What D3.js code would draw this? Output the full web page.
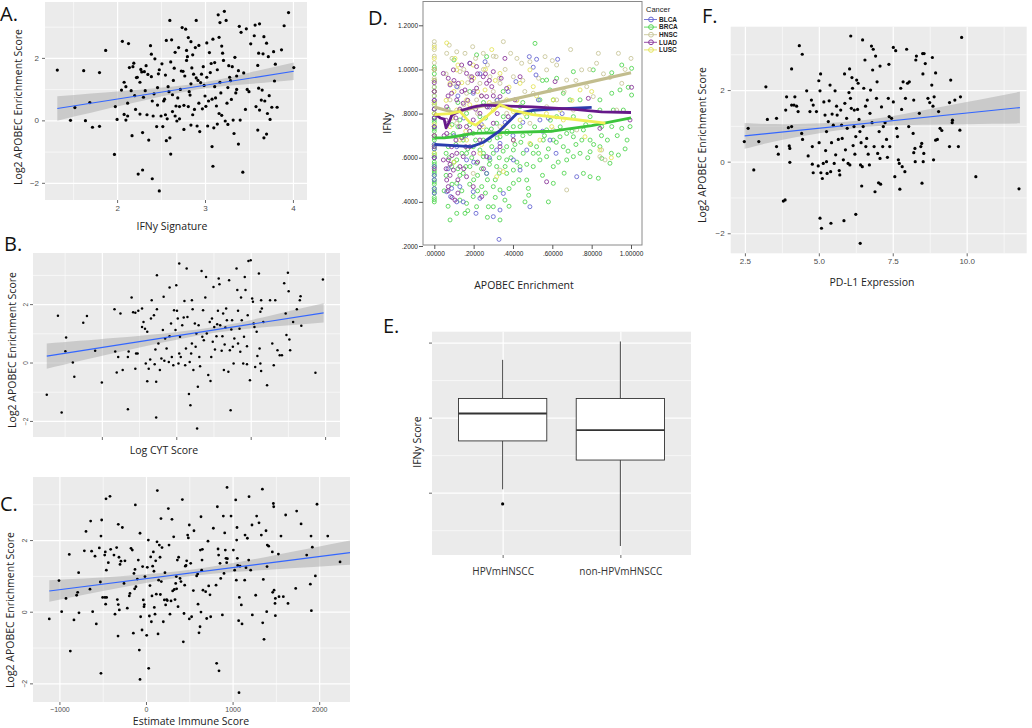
<!DOCTYPE html>
<html>
<head>
<meta charset="utf-8">
<script src="https://cdn.jsdelivr.net/npm/d3@7"></script>
<style>
  body { margin: 0; background: #fff; }
  svg { display: block; }
  text { font-family: "Open Sans", sans-serif; }
</style>
</head>
<body>
<div id="fig"></div>
<script>
// ---- panel A: IFNy signature vs log2 APOBEC enrichment
const pointsA = [[1.32,1.61],[1.47,0],[1.52,0.41],[1.62,1.59],[1.64,-0.01],[1.69,0.57],[1.72,-0.22],[1.8,1.53],[1.8,-0.19],[1.87,2.24],
  [1.97,-1.09],[1.98,0.44],[2,0.03],[2.06,2.53],[2.05,0.97],[2.08,0.19],[2.1,1.08],[2.1,0.01],[2.12,0.14],[2.13,2.46],[2.14,1.69],[2.16,0.95],
  [2.17,-0.49],[2.19,1.83],[2.2,0.79],[2.22,1.37],[2.24,-1.72],[2.26,1.22],[2.27,1.63],[2.29,-1.59],[2.29,-0.39],[2.3,0.74],[2.31,1.56],
  [2.33,1.75],[2.34,0.18],[2.36,-0.63],[2.38,2.39],[2.39,2.12],[2.39,1.4],[2.4,-1.87],[2.41,0.14],[2.43,1.97],[2.45,-0.2],[2.46,0.49],
  [2.47,1.49],[2.48,-2.26],[2.5,0.14],[2.51,1.81],[2.52,-0.2],[2.54,0.68],[2.55,0.18],[2.56,2.56],[2.56,-0.65],[2.58,1.08],[2.6,3.2],
  [2.6,-0.56],[2.61,-1.08],[2.61,1.87],[2.62,2.58],[2.63,0.82],[2.65,1.67],[2.66,0.14],[2.67,0.46],[2.68,-0.02],[2.7,2.33],[2.71,0.44],
  [2.72,0.99],[2.74,2.97],[2.75,1.57],[2.76,-0.29],[2.77,1.42],[2.78,2.92],[2.79,2.24],[2.8,2.04],[2.81,0.44],[2.81,2.65],[2.83,0.81],
  [2.84,-0.15],[2.84,1.17],[2.86,2.1],[2.87,1.48],[2.89,2.33],[2.9,3.2],[2.9,1.36],[2.91,-0.18],[2.93,0.55],[2.93,2.4],[2.94,-0.36],
  [2.95,1.21],[2.97,0.37],[2.98,1.72],[3,0.78],[3.02,1.38],[3.03,-0.18],[3.05,2.17],[3.06,1.53],[3.08,-0.84],[3.08,0.68],[3.09,2.6],
  [3.09,-1.47],[3.1,-0.24],[3.11,1.85],[3.13,0.46],[3.14,-0.12],[3.15,3.38],[3.16,2.66],[3.17,1.22],[3.17,3.13],[3.19,0.16],[3.2,2.15],
  [3.22,3.49],[3.23,-0.02],[3.24,3.2],[3.26,-0.13],[3.27,1.75],[3.29,1.27],[3.3,0.67],[3.32,0.01],[3.33,-0.42],[3.34,2.02],[3.36,1.42],
  [3.36,0.99],[3.38,1.59],[3.38,-0.76],[3.39,3.01],[3.4,0.01],[3.41,2.82],[3.43,-1.66],[3.47,2.93],[3.48,0.99],[3.5,0.92],[3.52,2.45],
  [3.56,2.71],[3.57,3.05],[3.58,0.44],[3.6,-0.31],[3.6,1.76],[3.61,1.03],[3.61,2.15],[3.62,0.33],[3.62,3.09],[3.64,0.65],[3.65,0.97],
  [3.66,2.13],[3.67,-0.56],[3.67,2.68],[3.68,0.62],[3.7,-0.44],[3.7,2.47],[3.71,0.22],[3.72,2.04],[3.73,0.79],[3.74,0.03],[3.76,0.42],
  [3.78,2.2],[3.79,1.26],[3.8,1.8],[3.82,0.42],[3.87,2.26],[3.9,3.03],[3.95,3.45],[4.01,1.69],
  [2.18,1.72],[2.23,1.38],[2.28,1.55],[2.35,1.47],[2.42,0.85],[2.46,1.05],[2.53,0.62],[2.57,0.05],[2.59,0.92],[2.64,1.28],[2.69,0.72],
  [2.73,1.58],[2.76,0.48],[2.79,1.92],[2.82,0.92],[2.85,1.68],[2.88,0.35],[2.92,1.28],[2.96,1.48],[2.99,1.12],[3.04,0.62],[3.07,1.82],
  [3.11,1.08],[3.14,1.62],[3.18,0.88],[3.21,1.92],[3.25,0.55],[3.28,1.38],[3.31,1.72],[3.35,0.88],[2.63,0.28],[2.71,0.05],[2.86,0.18],
  [3.01,0.45],[3.16,0.22],[3.12,0.72],[2.55,1.45],[2.48,1.62],[2.4,0.62],[2.32,0.95],[2.26,0.2],[2.21,0.35],[2.12,0.55],[2.08,1.22],
  [2.66,2.18],[2.84,2.52],[3.02,2.48],[3.19,2.38],[3.26,1.05],[3.44,1.52],[3.46,0.35]]
const fitA = [[1.32,0.38],[4.01,1.57]]
const bandA = [[1.32,0.39],[2.1,0.22],[2.9,0.1],[3.5,0.18],[4.01,0.28]]
const xTicksA = [2,3,4], xMinorA = [1.5,2.5,3.5]

// ---- panel B: log CYT score (no tick labels in the original)
const pointsB = [[0.26,-1.1],[0.41,1.6],[0.46,-1.71],[0.52,0.86],[0.51,0.39],[0.61,0],[0.63,-0.49],[0.75,1.36],[0.8,1.59],[0.91,0.4],
  [1,-0.68],[1.17,1.82],[1.18,0.38],[1.2,-0.34],[1.22,0.19],[1.25,1.68],[1.28,-0.26],[1.35,-1.6],[1.35,0.19],[1.36,0.38],[1.4,2.23],
  [1.42,1.72],[1.45,-0.21],[1.45,1.7],[1.46,0.31],[1.48,0.31],[1.49,1.77],[1.54,1.85],[1.54,1.22],[1.56,1.39],[1.58,1.16],[1.59,-0.03],
  [1.61,1.05],[1.61,-0.64],[1.63,-0.21],[1.65,0.1],[1.66,1.51],[1.67,2.13],[1.7,1.62],[1.71,-0.06],[1.72,0.45],[1.73,-0.66],[1.73,-1.88],
  [1.74,1.82],[1.74,2.99],[1.76,0.65],[1.78,-0.26],[1.8,0.14],[1.82,1.11],[1.83,2.25],[1.84,0.06],[1.85,0.82],[1.87,0.48],[1.9,0.02],
  [1.91,2.57],[1.91,0.9],[1.93,1.34],[1.94,0.19],[1.96,-0.09],[1.97,1.79],[1.99,1.11],[2,2.65],[2.01,1.77],[2.02,1.51],[2.03,-0.03],
  [2.04,3.39],[2.04,0.31],[2.05,0.88],[2.06,0.19],[2.08,1.28],[2.1,1.54],[2.11,2.11],[2.12,-0.09],[2.13,0.48],[2.14,3.22],[2.15,1.56],
  [2.17,-1.08],[2.18,0.02],[2.19,-1.46],[2.2,0.31],[2.21,2.13],[2.21,0.65],[2.22,1.82],[2.23,-0.26],[2.25,1.34],[2.26,0.54],[2.27,0.99],
  [2.28,-2.26],[2.29,-0.83],[2.3,1.28],[2.31,0.19],[2.32,-0.13],[2.34,3.13],[2.35,0.88],[2.36,1.79],[2.37,0.76],[2.39,2.23],[2.4,2.93],
  [2.41,0.99],[2.43,-0.43],[2.45,1.39],[2.46,-0.63],[2.47,0.19],[2.48,1.51],[2.49,0.71],[2.5,2.59],[2.51,1.22],[2.52,0.45],[2.54,0.9],
  [2.55,1.31],[2.56,1.77],[2.57,2.88],[2.58,2.68],[2.59,1.28],[2.61,0.4],[2.62,0.9],[2.63,1.68],[2.64,-0.26],[2.65,0.62],[2.66,1.2],
  [2.67,1.85],[2.68,1.45],[2.7,-0.32],[2.71,2.82],[2.72,0.42],[2.73,-1.63],[2.74,1.13],[2.75,1.45],[2.76,0.54],[2.77,-0.03],[2.78,0.82],
  [2.81,3.22],[2.82,2.48],[2.83,0.65],[2.83,1.77],[2.85,1.16],[2.86,0.37],[2.87,2.23],[2.88,1.45],[2.9,-0.03],[2.91,0.88],[2.92,2.93],
  [2.93,2.48],[2.95,-0.06],[2.95,0.56],[2.96,1.62],[2.97,3.48],[2.99,-0.61],[3,3.5],[3.02,2.19],[3.03,2.08],[3.04,1.34],[3.05,1.22],
  [3.06,-0.15],[3.08,1.05],[3.09,0.22],[3.11,3.05],[3.12,0.48],[3.13,-0.03],[3.13,1.74],[3.14,2.13],[3.14,-0.29],[3.15,1.85],[3.17,1.39],
  [3.22,-0.78],[3.26,2.13],[3.29,0.65],[3.31,-0.09],[3.33,2.13],[3.36,0.42],[3.39,0.25],[3.42,0.25],[3.45,2.71],[3.47,1.68],[3.48,0.94],
  [3.5,3.07],[3.51,2.44],[3.52,0.79],[3.53,0.42],[3.57,1.39],[3.62,1.82],[3.66,2.13],[3.67,2.27],[3.68,1.26],[3.87,-0.35],[3.97,2.84]]
const fitB = [[0.26,0.22],[3.98,1.7]]
const bandB = [[0.26,0.43],[1.2,0.25],[2.4,0.1],[3.3,0.2],[3.98,0.33]]
const xTicksB = [1,2,3,4], xMinorB = [0.5,1.5,2.5,3.5]

// ---- panel C: ESTIMATE immune score
const pointsC = [[-1117,-0.2],[-1005,0.87],[-974,0],[-924,0.37],[-886,1.6],[-874,-1.1],[-832,-0.23],[-801,0.46],[-789,0.54],[-778,1.09],
  [-774,-0.03],[-693,2.24],[-712,1.7],[-647,0.63],[-639,2.53],[-628,1.69],[-616,0],[-589,1.55],[-574,-0.34],[-539,1.78],[-527,0.83],
  [-520,-1.72],[-520,2.11],[-512,2.56],[-501,0.4],[-477,1.58],[-474,0.4],[-470,1.67],[-466,0.21],[-462,3.15],[-458,1.16],[-455,0.4],
  [-435,1.37],[-416,3.22],[-408,1.74],[-370,1.58],[-358,-0.07],[-339,1.79],[-331,0.34],[-323,-0.68],[-320,2.44],[-320,0.2],[-312,1.52],
  [-308,0.05],[-300,1.32],[-289,1.41],[-273,2.35],[-254,0.79],[-243,1.42],[-216,0.1],[-193,0.44],[-185,0.51],[-173,1.77],[-158,1.72],
  [-146,-0.6],[-139,1.07],[-131,0.64],[-127,1.18],[-123,2.98],[-116,0.7],[-100,0.91],[-89,1.44],[-77,-1.07],[-69,-1.89],[-69,2.19],
  [-62,-0.14],[-46,-0.51],[-39,1.26],[-31,0.33],[-23,0.14],[-19,0.2],[-12,0.98],[8,-0.66],[15,1.24],[27,2],[31,-1.58],[39,-0.12],
  [46,0.73],[54,1.53],[62,-0.28],[69,0.44],[77,1.27],[85,1.67],[92,1.13],[96,0.12],[104,-0.07],[112,1.42],[119,0.49],[127,1.95],
  [131,3.38],[139,-0.62],[146,0.88],[154,1.86],[162,1.52],[166,0.48],[173,2.6],[177,0.84],[185,1.79],[200,-0.28],[212,0.33],[219,1.09],
  [227,0.19],[239,0.34],[246,0.31],[258,2.88],[266,1.86],[277,-0.07],[289,0.3],[300,2.58],[308,0.58],[320,2.09],[327,0.62],[335,0.34],
  [343,0.79],[350,0.98],[354,0.64],[362,1.44],[370,0.14],[377,1.52],[393,0.93],[404,0.84],[420,3.13],[431,-0.84],[439,-0.05],[447,0.74],
  [454,1.27],[462,1.29],[470,1.42],[481,2.14],[489,2.06],[500,2.42],[500,-0.2],[516,1.35],[527,-0.14],[547,0.59],[554,2.26],[585,1],
  [597,1.05],[601,0.21],[612,-0.59],[624,-0.42],[628,1.72],[635,2.65],[635,-0.01],[643,1.16],[647,1.44],[651,1.74],[658,0.6],[689,0.56],
  [701,-0.19],[716,1.97],[724,0.72],[739,0.47],[747,-0.14],[778,2.33],[809,0.74],[816,-1.44],[824,2.93],[832,1.75],[839,1.58],[843,-1.65],
  [855,1.35],[863,0.93],[882,-0.09],[893,2.67],[901,1.07],[909,2.2],[916,1.72],[924,1.49],[932,1.37],[936,3.47],[940,1.48],[982,2.67],
  [1009,1.72],[1024,1.16],[1036,3.12],[1043,0.88],[1047,2],[1051,2.35],[1055,1.49],[1059,1.29],[1070,-0.25],[1074,-2.26],[1078,0.4],
  [1086,1.27],[1101,0.19],[1109,-0.34],[1140,0.88],[1144,2.14],[1155,1.23],[1171,2.05],[1186,1.44],[1190,3.21],[1209,1.16],[1224,2.42],
  [1228,-0.09],[1267,0.46],[1278,2.67],[1305,2.48],[1332,2.14],[1344,3.42],[1348,-0.31],[1355,0.9],[1363,-0.77],[1386,2.26],[1394,0],
  [1398,1.26],[1401,1.86],[1417,1.83],[1459,1.67],[1463,0.54],[1471,3.02],[1475,2.93],[1479,0.6],[1490,0.23],[1494,-0.11],[1494,0.37],
  [1529,1.61],[1536,0.42],[1559,2.11],[1586,0.42],[1613,2.7],[1640,0.23],[1729,0.65],[1740,2.81],[1791,2.45],[1856,1.58],[1898,0.77],
  [1906,2.11],[1910,0.03],[1921,1.8],[1956,1],[1975,3],[2099,2.11],[2241,1.39]]
const fitC = [[-1117,0.58],[2356,1.65]]
const bandC = [[-1117,0.3],[-300,0.16],[600,0.09],[1500,0.2],[2356,0.34]]
const xTicksC = [-1000,0,1000,2000], xMinorC = [-500,500,1500]

// ---- panel F: PD-L1 expression
const pointsF = [[2.48,0.56],[2.61,0.93],[2.8,-0.23],[2.97,0.56],[3.21,2.09],[3.26,1.18],[3.57,1.21],[3.57,0.42],[3.63,0.21],[3.8,-1.1],
  [3.86,-1.07],[3.88,1.44],[3.91,1.81],[3.97,0.95],[4,0.44],[4.02,-0.02],[4.02,0.37],[4.08,0.98],[4.08,1.58],[4.08,2.59],[4.16,1.58],
  [4.19,1.81],[4.25,1.55],[4.3,1.4],[4.34,3.24],[4.42,0.79],[4.44,3],[4.45,0.62],[4.59,1.98],[4.64,0.16],[4.7,1.4],[4.75,1.72],[4.78,0.42],
  [4.78,-0.07],[4.81,1.58],[4.81,-0.31],[4.92,1.4],[4.98,-0.12],[5,2.26],[5.01,0.53],[5.04,1.98],[5.04,-1.58],[5.06,2.45],[5.07,-0.31],
  [5.09,-1.86],[5.12,-0.47],[5.15,-0.05],[5.17,1.67],[5.21,1.3],[5.23,0.31],[5.26,0],[5.26,0.84],[5.28,-0.33],[5.32,1.12],[5.35,1.7],
  [5.38,2.14],[5.4,-0.28],[5.41,-1.72],[5.43,0.53],[5.45,1.33],[5.49,1.02],[5.52,-0.05],[5.55,1.98],[5.57,0.19],[5.6,1.55],[5.62,1.3],
  [5.66,0.62],[5.69,-0.25],[5.71,-0.37],[5.74,1.44],[5.77,1.02],[5.79,0.65],[5.83,0.05],[5.85,-1.65],[5.87,2.45],[5.88,1.63],[5.9,0.33],
  [5.94,1.21],[5.96,0.93],[5.99,-0.05],[6.02,1.93],[6.04,2.59],[6.05,-0.09],[6.07,1.77],[6.08,3.51],[6.1,1.49],[6.12,2.35],[6.14,2.05],
  [6.16,0.45],[6.19,0.98],[6.2,1.44],[6.22,0.21],[6.25,-1.47],[6.25,0.7],[6.28,2.28],[6.31,1.46],[6.33,2.19],[6.36,1.18],[6.39,0.84],
  [6.4,-2.28],[6.41,-0.09],[6.43,0.53],[6.45,-0.68],[6.47,-0.14],[6.48,3.4],[6.5,0.98],[6.52,2.05],[6.56,2.84],[6.58,1.55],[6.59,0.42],
  [6.62,0.65],[6.64,1.72],[6.67,0.21],[6.71,-0.09],[6.73,1.35],[6.75,2],[6.78,3.23],[6.8,1.09],[6.82,2.56],[6.84,3.14],[6.87,0.42],
  [6.9,-0.84],[6.92,2.95],[6.95,1.77],[6.97,2.23],[6.99,0.23],[7.02,-0.59],[7.04,0.84],[7.07,2.67],[7.07,0.09],[7.09,-0.63],[7.12,1.53],
  [7.16,0.42],[7.18,0.98],[7.24,1.09],[7.29,0.62],[7.32,0.12],[7.35,1.77],[7.37,2.72],[7.38,1.26],[7.4,0.42],[7.46,1.21],[7.52,1.67],
  [7.52,3.19],[7.57,-0.42],[7.6,3.1],[7.63,0.93],[7.66,0.7],[7.69,0.05],[7.72,-0.05],[7.74,-0.77],[7.77,2.05],[7.8,1.46],[7.82,-0.14],
  [7.85,2.23],[7.91,-0.28],[7.93,1.77],[7.97,3.14],[8,2.19],[8.04,0.98],[8.06,2.23],[8.19,0.79],[8.21,1.72],[8.21,0.25],[8.25,0.37],
  [8.26,0],[8.28,2.84],[8.3,2.95],[8.4,1.35],[8.45,0.42],[8.48,0.51],[8.49,-0.6],[8.51,3.02],[8.52,2.45],[8.53,0],[8.55,0.23],[8.56,3.02],
  [8.6,2.74],[8.69,1.77],[8.75,1.65],[8.82,2.14],[8.84,2.91],[8.86,1.55],[8.88,0.05],[8.9,1.81],[8.95,2.48],[8.95,0.6],[9.01,0.62],
  [9.05,1.4],[9.1,0.93],[9.16,0.87],[9.42,1.65],[9.42,0.42],[9.46,2.28],[9.51,1.09],[9.52,1.16],[9.6,1.72],[9.72,0.42],[9.77,0.88],
  [9.79,1.81],[9.83,3.47],[10.31,-0.42],[11.77,-0.76]]
const fitF = [[2.49,0.72],[11.8,1.51]]
const bandF = [[2.49,0.36],[4,0.2],[6.3,0.1],[8.5,0.2],[11.8,0.44]]
const xTicksF = [2.5,5,7.5,10], xMinorF = [3.75,6.25,8.75,11.25]

const yTicksLog2 = [-2,0,2], yMinorLog2 = [-1,1,3]

// ---- panel D: IFNy vs APOBEC enrichment by cancer (SPSS style)
const cancers = ["BLCA","BRCA","HNSC","LUAD","LUSC"]
const ptsBLCA = [[0.063,0.446],[0.083,0.424],[0.114,0.4],[0.147,0.4],[0.212,0.348],[0.232,0.416],[0.3,0.333],[0.334,0.363],[0.329,0.23],
  [0.483,1.058],[0.486,0.378],[0.52,1.046],[0.529,0.862],[0.517,0.975],[0.627,1.046],[0.619,0.62],[0.415,0.945],[0.376,0.9],[0.258,1.035],
  [0.181,1.028],[0.114,0.922],[0.198,0.892],[0.266,0.529],[0.402,0.59],[0.47,0.635],[0.537,0.771],[0.58,0.779],[0.588,0.68],[0.334,0.665],
  [0.114,0.65],[0.164,0.59],[0.088,0.461],[0.13,0.469],[0.198,0.446],[0.351,0.438],[0.436,0.544],[0.503,1.01],[0.232,0.98],[0.317,0.635],
  [0.724,0.514],[0.15,0.78],[0.28,0.83],[0.36,0.76],[0.1,0.7],[0.07,0.55],[0.09,0.8],[0.12,0.88],[0.16,0.7],[0.2,0.58],[0.24,0.75],
  [0.28,0.6],[0.32,0.86],[0.4,0.7],[0.45,0.76],[0.55,0.72],[0.65,0.8]]
const zeroBLCA = [0.44,0.46,0.5,0.52,0.56,0.6,0.64,0.66,0.7,0.74,0.78,0.82,0.86,0.9,0.95,1.0]
const ptsBRCA = [[0.08,0.318],[0.512,1.118],[0.1,1.043],[0.215,1.066],[0.266,1.058],[0.571,0.952],[0.622,0.96],[0.707,0.99],[0.808,0.998],
  [0.902,0.985],[0.953,1.02],[1.003,1.005],[0.944,0.907],[0.986,0.919],[1.003,0.884],[0.842,0.862],[0.902,0.892],[0.842,0.816],[0.91,0.816],
  [0.961,0.816],[0.792,0.786],[0.851,0.741],[0.902,0.741],[0.953,0.733],[0.995,0.741],[0.758,0.726],[0.707,0.695],[0.792,0.68],[0.842,0.65],
  [0.741,0.62],[0.792,0.627],[0.707,0.605],[0.851,0.597],[0.893,0.575],[0.936,0.612],[0.792,0.514],[0.834,0.507],[0.673,0.59],[0.656,0.65],
  [0.639,0.695],[0.605,0.68],[0.571,0.726],[0.554,0.68],[0.52,0.65],[0.503,0.62],[0.537,0.59],[0.571,0.605],[0.486,0.71],[0.452,0.62],
  [0.436,0.56],[0.47,0.499],[0.478,0.461],[0.461,0.4],[0.402,0.544],[0.368,0.529],[0.359,0.408],[0.334,0.454],[0.3,0.469],[0.317,0.56],
  [0.266,0.529],[0.249,0.605],[0.215,0.575],[0.181,0.56],[0.147,0.529],[0.13,0.408],[0.164,0.393],[0.198,0.424],[0.241,0.469],[0.275,0.378],
  [0.114,0.484],[0.088,0.56],[0.071,0.65],[0.097,0.71],[0.147,0.68],[0.198,0.65],[0.249,0.68],[0.292,0.65],[0.334,0.695],[0.368,0.71],
  [0.402,0.741],[0.436,0.741],[0.368,0.65],[0.47,0.786],[0.503,0.801],[0.436,0.831],[0.537,0.862],[0.605,0.862],[0.588,0.907],[0.656,0.892],
  [0.69,0.862],[0.741,0.862],[0.622,0.786],[0.707,0.786],[0.673,0.71],[0.232,0.786],[0.164,0.801],[0.13,0.771],[0.266,0.726],[0.317,0.756],
  [0.351,0.786],[0.198,0.71],[0.114,0.59],[0.164,0.62],[0.232,0.635],[0.402,0.635],[0.283,0.59],[0.368,0.59],[0.503,0.56],[0.605,0.56],
  [0.402,0.484],[0.3,0.378],[0.215,0.378],[0.605,0.484],[0.758,0.529],[0.334,0.318],[0.114,0.348],[0.156,0.348],[0.06,0.52],[0.075,0.6],
  [0.09,0.75],[0.12,0.55],[0.14,0.62],[0.18,0.48],[0.22,0.52],[0.26,0.44],[0.28,0.68],[0.31,0.5],[0.33,0.6],[0.38,0.46],[0.42,0.58],
  [0.44,0.67],[0.55,0.52],[0.58,0.64],[0.63,0.58],[0.66,0.53],[0.72,0.66],[0.78,0.6],[0.88,0.68],[0.97,0.64],
  [0.05,0.45],[0.06,0.62],[0.07,0.82],[0.08,0.7],[0.09,0.48],[0.1,0.58],[0.11,0.66],[0.12,0.74],[0.13,0.52],[0.14,0.45],[0.15,0.7],
  [0.16,0.56],[0.17,0.64],[0.18,0.75],[0.19,0.6],[0.2,0.5],[0.21,0.68],[0.22,0.45],[0.23,0.72],[0.24,0.55],[0.25,0.62],[0.26,0.78],
  [0.27,0.5],[0.28,0.57],[0.29,0.73],[0.3,0.62],[0.31,0.42],[0.32,0.69],[0.33,0.53],[0.35,0.63],[0.36,0.56],[0.37,0.72],[0.39,0.6],
  [0.41,0.66],[0.43,0.5],[0.45,0.7],[0.47,0.57],[0.49,0.66],[0.51,0.74],[0.53,0.62],[0.56,0.7],[0.59,0.77],[0.62,0.67],[0.64,0.74],
  [0.68,0.63],[0.7,0.72],[0.75,0.68],[0.77,0.75],[0.81,0.66],[0.85,0.7],[0.9,0.62],[0.93,0.7],[0.98,0.68],[0.12,0.85],[0.18,0.9],
  [0.25,0.85],[0.35,0.9],[0.45,0.85],[0.55,0.95],[0.07,0.38],[0.17,0.36],[0.27,0.33],[0.38,0.38],[0.48,0.43],[0.58,0.4]]
const zeroBRCA = [0.4,0.41,0.42,0.44,0.45,0.46,0.48,0.49,0.5,0.52,0.53,0.54,0.56,0.57,0.58,0.6,0.61,0.62,0.64,0.65,0.66,0.68,0.69,0.7,
  0.72,0.73,0.74,0.76,0.77,0.78,0.8,0.82,0.84,0.85,0.88,0.9,0.92,0.95,0.98,1.0,1.01]
const ptsHNSC = [[0.076,1.11],[0.063,1.073],[0.114,1.08],[0.156,1.073],[0.195,1.103],[0.249,1.073],[0.314,1.058],[0.351,1.126],[0.388,1.073],
  [0.444,1.028],[0.486,1.035],[0.563,1.058],[0.571,0.998],[0.622,1.02],[0.693,1.09],[0.673,0.952],[0.749,0.998],[0.834,1.073],[0.825,1.028],
  [0.936,1.073],[1.0,1.05],[0.893,0.964],[0.953,0.937],[0.775,0.922],[0.808,0.877],[0.707,0.816],[0.622,0.862],[0.571,0.831],[0.503,0.892],
  [0.402,0.967],[0.334,0.937],[0.283,0.967],[0.232,0.937],[0.181,0.967],[0.13,0.99],[0.097,0.937],[0.164,0.892],[0.215,0.862],[0.266,0.831],
  [0.317,0.862],[0.368,0.801],[0.419,0.862],[0.08,0.862],[0.13,0.816],[0.673,0.454],[0.851,0.635],[0.842,0.605],[0.868,0.59],[0.724,0.726],
  [0.605,0.726],[0.334,0.544],[0.198,0.529],[0.114,0.756],[0.334,0.741],[0.486,0.756],[0.927,0.816],[0.25,1.0],[0.3,0.9],[0.45,0.95],
  [0.06,0.98],[0.09,1.05],[0.12,0.92],[0.15,1.0],[0.17,0.94],[0.21,1.05],[0.24,0.88],[0.27,1.02],[0.3,1.06],[0.33,0.96],[0.36,1.0],
  [0.42,1.05],[0.46,0.9],[0.53,0.96],[0.6,1.04],[0.66,0.9],[0.72,0.95],[0.79,1.0],[0.86,0.98],[0.97,1.0],[0.15,0.84],[0.22,0.8]]
const zeroHNSC = [0.84,0.88,0.92,0.96,1.0,1.03,1.06,1.09,1.11,1.126]
const ptsLUAD = [[0.995,0.771],[1.003,0.919],[0.614,0.945],[0.783,0.869],[0.842,0.733],[0.571,0.491],[0.402,0.68],[0.359,1.05],[0.436,0.967],
  [0.046,0.982],[0.071,0.96],[0.097,0.998],[0.122,0.937],[0.156,0.907],[0.181,1.028],[0.19,0.967],[0.215,0.915],[0.249,0.967],[0.266,0.937],
  [0.3,0.99],[0.334,0.877],[0.088,0.892],[0.114,0.862],[0.147,0.847],[0.063,0.831],[0.097,0.801],[0.13,0.741],[0.164,0.741],[0.198,0.771],
  [0.232,0.801],[0.266,0.877],[0.063,0.71],[0.088,0.65],[0.114,0.62],[0.071,0.59],[0.097,0.544],[0.13,0.56],[0.164,0.514],[0.198,0.469],
  [0.241,0.424],[0.063,0.499],[0.071,0.469],[0.105,0.408],[0.046,0.59],[0.181,0.65],[0.232,0.68],[0.3,0.756],[0.334,0.65],[0.376,0.786],
  [0.164,0.982],[0.139,1.02],[0.215,1.013],[0.292,0.922],[0.368,0.914],[0.41,0.862],[0.266,0.605],[0.147,0.605],[0.08,0.93],[0.11,0.78],
  [0.14,0.69],[0.2,0.9],[0.22,0.58],[0.08,0.57],[0.05,0.7],[0.06,0.77],[0.07,0.88],[0.08,0.52],[0.09,0.61],[0.1,0.95],[0.11,0.68],
  [0.12,0.5],[0.13,0.82],[0.14,0.9],[0.15,0.55],[0.16,0.65],[0.17,0.86],[0.18,0.72],[0.19,0.95],[0.2,0.62],[0.21,0.82],[0.22,0.98],
  [0.23,0.74],[0.24,0.88],[0.25,0.55],[0.26,0.98],[0.27,0.83],[0.28,0.95],[0.3,0.88],[0.32,0.8],[0.34,0.96],[0.06,0.55],[0.07,0.45],
  [0.09,0.42],[0.12,0.44]]
const zeroLUAD = [0.55,0.6,0.65,0.7,0.74,0.78,0.82,0.86,0.9,0.94]
const ptsLUSC = [[0.063,1.12],[0.105,1.05],[0.292,1.09],[0.334,0.982],[0.436,0.937],[0.486,0.998],[0.503,0.922],[0.597,0.741],[0.656,0.771],
  [0.537,0.68],[0.486,0.665],[0.766,0.695],[0.842,0.635],[0.317,0.514],[0.351,0.537],[0.232,0.62],[0.164,0.68],[0.114,0.816],[0.164,0.862],
  [0.215,0.831],[0.258,0.907],[0.08,0.937],[0.114,0.998],[0.198,1.02],[0.402,0.809],[0.436,0.771],[0.368,0.862],[0.3,0.816],[0.249,0.741],
  [0.334,0.71],[0.605,0.862],[0.741,0.907],[0.639,0.816],[0.402,0.68],[0.08,0.741],[0.13,0.68],[0.06,0.86],[0.09,0.78],[0.1,0.9],
  [0.12,1.02],[0.14,0.94],[0.16,0.72],[0.18,0.84],[0.2,0.96],[0.22,0.9],[0.24,0.66],[0.26,1.0],[0.28,0.85],[0.31,0.95],[0.35,0.74],
  [0.38,0.92],[0.42,0.86],[0.46,0.8],[0.52,0.88],[0.57,0.8],[0.7,0.86],[0.8,0.9],[0.9,0.6],[0.1,0.58]]
const zeroLUSC = [0.62,0.7,0.75,0.8,0.85,0.9,0.95,1.0,1.05,1.1]
// fit lines
const lineBLCA = [[0,0.66],[0.1,0.655],[0.19,0.65],[0.25,0.67],[0.33,0.72],[0.42,0.8],[0.5,0.815],[0.6,0.82],[0.8,0.828]]
const lineBRCA = [[0,0.69],[0.05,0.69],[0.1,0.695],[0.2,0.71],[0.4,0.715],[0.6,0.72],[0.8,0.745],[1.0,0.78]]
const lineHNSC = [[0,0.83],[0.1,0.805],[0.2,0.825],[0.4,0.865],[0.6,0.905],[0.8,0.945],[1.0,0.985]]
const lineLUAD = [[0,0.8],[0.03,0.78],[0.05,0.775],[0.06,0.735],[0.075,0.76],[0.09,0.795],[0.14,0.815],[0.2,0.83],[0.25,0.838],[0.35,0.835],[0.5,0.83],[0.7,0.82],[0.85,0.808],[1.0,0.805]]
const lineLUSC = [[0,0.795],[0.08,0.8],[0.13,0.81],[0.18,0.76],[0.21,0.748],[0.27,0.79],[0.335,0.84],[0.4,0.815],[0.5,0.795],[0.65,0.78],[0.87,0.757]]
const yTicksD = [0.2,0.4,0.6,0.8,1.0,1.2]
const xTicksD = [0,0.2,0.4,0.6,0.8,1.0]

// ---- panel E: boxplot of IFNy score
const boxGroups = ["HPVmHNSCC","non-HPVmHNSCC"]
const boxLo  = [0.609,0.458]
const boxQ1  = [0.738,0.687]
const boxMed = [0.811,0.767]
const boxQ3  = [0.851,0.851]
const boxHi  = [0.954,1.003]
const boxOut = [[0,0.57]]
const yTicksE = [0.6,0.8,1.0], yMinorE = [0.5,0.7,0.9]

let svg = d3.select("#fig").append("svg").attr("width",1032).attr("height",728)

//ggplot-like scatter panel with lm fit + ribbon
function ggPanel(p) {
  let x = d3.scaleLinear().domain(p.xDom).range([p.left, p.right])
  let y = d3.scaleLinear().domain(p.yDom).range([p.bottom, p.top])
  let h = p.bottom - p.top, w = p.right - p.left
  let g = svg.append("g")

  g.append("rect").attr("x",p.left).attr("y",p.top).attr("width",w).attr("height",h).attr("fill","#ebebeb")

  //grid lines (minor thin, major thicker)
  let grid = (axis, vals, size, sw, tr) => {
    g.append("g").attr("transform",tr)
      .call(axis.tickValues(vals).tickSize(size).tickFormat(""))
      .call(a => a.select(".domain").remove())
      .call(a => a.selectAll("line").attr("stroke","#fff").attr("stroke-width",sw))
  }
  grid(d3.axisBottom(x), p.xMinor, -h, 0.6, `translate(0,${p.bottom})`)
  grid(d3.axisLeft(y), p.yMinor, -w, 0.6, `translate(${p.left},0)`)
  grid(d3.axisBottom(x), p.xTicks, -h, 1.2, `translate(0,${p.bottom})`)
  grid(d3.axisLeft(y), p.yTicks, -w, 1.2, `translate(${p.left},0)`)

  //confidence ribbon around the fit
  let fx0 = p.fit[0][0], fy0 = p.fit[0][1], fx1 = p.fit[1][0], fy1 = p.fit[1][1]
  let fitY = v => fy0 + (fy1 - fy0) * (v - fx0) / (fx1 - fx0)
  g.append("path").datum(p.band)
    .attr("d", d3.area().curve(d3.curveNatural)
      .x(d => x(d[0])).y0(d => y(fitY(d[0]) - d[1])).y1(d => y(fitY(d[0]) + d[1])))
    .attr("fill","#999").attr("fill-opacity",0.4)

  g.selectAll(".pt").data(p.points).enter().append("circle")
    .attr("cx", d => x(d[0])).attr("cy", d => y(d[1])).attr("r", p.r).attr("fill","#000")

  g.append("path").datum(p.fit)
    .attr("d", d3.line().x(d => x(d[0])).y(d => y(d[1])))
    .attr("stroke","#3366ff").attr("stroke-width",1.1).attr("fill","none")

  //axes: tick marks + labels
  let xa = g.append("g").attr("transform",`translate(0,${p.bottom})`)
    .call(d3.axisBottom(x).tickValues(p.xTicks).tickSize(3).tickPadding(2)
      .tickFormat(p.xLabels ? p.xFormat : ""))
  let ya = g.append("g").attr("transform",`translate(${p.left},0)`)
    .call(d3.axisLeft(y).tickValues(p.yTicks).tickSize(3).tickPadding(3).tickFormat(d3.format("d")))
  for (let a of [xa, ya]) {
    a.select(".domain").remove()
    a.selectAll("line").attr("stroke","#444").attr("stroke-width",0.8)
    a.selectAll("text").attr("fill","#4d4d4d").style("font-family","Liberation Sans")
      .style("font-size", p.tickFont + "px")
  }
  if (p.yRot) {
    ya.selectAll("text").attr("transform","rotate(-90)").attr("x",0).attr("y",-p.yRotOff)
      .attr("dy","0").attr("text-anchor","middle")
  }

  g.append("text").attr("x",p.xTitle[0]).attr("y",p.xTitle[1]).attr("text-anchor","middle")
    .attr("fill","#222").style("font-size","10.5px").text(p.xLab)
  g.append("text").attr("transform",`translate(${p.yTitle[0]},${p.yTitle[1]}) rotate(-90)`)
    .attr("text-anchor","middle").attr("fill","#222").style("font-size","10.5px")
    .text("Log2 APOBEC Enrichment Score")
}

ggPanel({left:45, right:307, top:2, bottom:200, xDom:[1.18,4.16], yDom:[-2.55,3.79],
  xTicks:xTicksA, xMinor:xMinorA, yTicks:yTicksLog2, yMinor:yMinorLog2, points:pointsA, fit:fitA, band:bandA,
  r:1.6, xLabels:true, xFormat:d3.format("d"), tickFont:8, xLab:"IFNy Signature", xTitle:[172,230], yTitle:[22,107]})
ggPanel({left:33, right:340, top:253, bottom:437, xDom:[0.075,4.2], yDom:[-2.55,3.75],
  xTicks:xTicksB, xMinor:xMinorB, yTicks:yTicksLog2, yMinor:yMinorLog2, points:pointsB, fit:fitB, band:bandB,
  r:1.25, xLabels:false, tickFont:6.5, yRot:true, yRotOff:5, xLab:"Log CYT Score", xTitle:[164,454], yTitle:[16,350]})
ggPanel({left:33, right:350, top:477, bottom:702, xDom:[-1305,2356], yDom:[-2.52,3.76],
  xTicks:xTicksC, xMinor:xMinorC, yTicks:yTicksLog2, yMinor:yMinorLog2, points:pointsC, fit:fitC, band:bandC,
  r:1.4, xLabels:true, xFormat:d3.format("d"), tickFont:7, yRot:true, yRotOff:6, xLab:"Estimate Immune Score", xTitle:[191,725], yTitle:[14,610]})
ggPanel({left:730.7, right:1026.7, top:26.7, bottom:253.3, xDom:[2.02,12.03], yDom:[-2.56,3.77],
  xTicks:xTicksF, xMinor:xMinorF, yTicks:yTicksLog2, yMinor:yMinorLog2, points:pointsF, fit:fitF, band:bandF,
  r:1.6, xLabels:true, xFormat:d3.format(".1f"), tickFont:8, xLab:"PD-L1 Expression", xTitle:[872,286], yTitle:[706,145]})

// ---- panel D
let dx = d3.scaleLinear().domain([0,1]).range([434.3,631])
let dy = d3.scaleLinear().domain([0.2,1.2]).range([246,25.3])
let dColor = {BLCA:"#6a6ad4", BRCA:"#55d655", HNSC:"#cac79c", LUAD:"#8c3a9c", LUSC:"#e4e45c"}
let dLine = {BLCA:"#2b3cae", BRCA:"#3cc43c", HNSC:"#c2bd8e", LUAD:"#66198a", LUSC:"#f0f056"}
let dPts = {BLCA:[ptsBLCA,zeroBLCA], BRCA:[ptsBRCA,zeroBRCA], HNSC:[ptsHNSC,zeroHNSC], LUAD:[ptsLUAD,zeroLUAD], LUSC:[ptsLUSC,zeroLUSC]}
let dLines = {BLCA:lineBLCA, BRCA:lineBRCA, HNSC:lineHNSC, LUAD:lineLUAD, LUSC:lineLUSC}

let gd = svg.append("g")
gd.append("rect").attr("x",423).attr("y",1.5).attr("width",219).attr("height",243.5)
  .attr("fill","#fff").attr("stroke","#8a8a8a").attr("stroke-width",1)

for (let c of ["BRCA","HNSC","BLCA","LUSC","LUAD"]) {
  let all = dPts[c][0].concat(dPts[c][1].map(v => [0, v]))
  gd.selectAll(".d" + c).data(all).enter().append("circle")
    .attr("cx", d => dx(d[0])).attr("cy", d => dy(d[1])).attr("r",2)
    .attr("fill","none").attr("stroke",dColor[c]).attr("stroke-width",0.9)
}
for (let c of ["HNSC","BRCA","BLCA","LUAD","LUSC"]) {
  gd.append("path").datum(dLines[c])
    .attr("d", d3.line().x(d => dx(d[0])).y(d => dy(d[1])))
    .attr("fill","none").attr("stroke",dLine[c]).attr("stroke-width", c == "HNSC" ? 3.2 : 2.8)
    .attr("stroke-linejoin","round")
}

let stripZero = f => v => f(v).replace(/^0\./,".")
let dya = gd.append("g").attr("transform","translate(423,0)")
  .call(d3.axisLeft(dy).tickValues(yTicksD).tickSize(4).tickPadding(1).tickFormat(stripZero(d3.format(".4f"))))
let dxa = gd.append("g").attr("transform","translate(0,245)")
  .call(d3.axisBottom(dx).tickValues(xTicksD).tickSize(4).tickPadding(2).tickFormat(stripZero(d3.format(".5f"))))
for (let a of [dya, dxa]) {
  a.select(".domain").remove()
  a.selectAll("line").attr("stroke","#555")
  a.selectAll("text").attr("fill","#222").style("font-family","Liberation Sans").style("font-size","6.5px")
}
gd.append("text").attr("x",524).attr("y",289).attr("text-anchor","middle").attr("fill","#222")
  .style("font-size","10.5px").text("APOBEC Enrichment")
gd.append("text").attr("transform","translate(391,123) rotate(-90)").attr("text-anchor","middle")
  .attr("fill","#222").style("font-size","10.5px").text("IFNy")

//legend
gd.append("text").attr("x",646).attr("y",12).attr("fill","#222")
  .style("font-family","Liberation Sans").style("font-size","7.5px").text("Cancer")
cancers.forEach((c, i) => {
  let ly = 19.5 + i * 7.6
  gd.append("line").attr("x1",644).attr("x2",657).attr("y1",ly).attr("y2",ly)
    .attr("stroke",dColor[c]).attr("stroke-width",0.9)
  gd.append("circle").attr("cx",651).attr("cy",ly).attr("r",2.4)
    .attr("fill","none").attr("stroke",dColor[c]).attr("stroke-width",1)
  gd.append("text").attr("x",659).attr("y",ly + 2.3).attr("fill","#222")
    .style("font-family","Liberation Sans").style("font-size","6.5px").style("font-weight","bold").text(c)
})

// ---- panel E
let ex = d3.scaleLinear().domain([0.4,2.6]).range([432,691])
let ey = d3.scaleLinear().domain([0.434,1.029]).range([555,331.7])
let ge = svg.append("g")
ge.append("rect").attr("x",432).attr("y",331.7).attr("width",259).attr("height",223.3).attr("fill","#ebebeb")
ge.append("g").attr("transform","translate(432,0)")
  .call(d3.axisLeft(ey).tickValues(yMinorE).tickSize(-259).tickFormat(""))
  .call(a => a.select(".domain").remove())
  .call(a => a.selectAll("line").attr("stroke","#fff").attr("stroke-width",0.6))
ge.append("g").attr("transform","translate(432,0)")
  .call(d3.axisLeft(ey).tickValues(yTicksE).tickSize(-259).tickFormat(""))
  .call(a => a.select(".domain").remove())
  .call(a => a.selectAll("line").attr("stroke","#fff").attr("stroke-width",1.2))
ge.append("g").attr("transform","translate(0,555)")
  .call(d3.axisBottom(ex).tickValues([1,2]).tickSize(-223.3).tickFormat(""))
  .call(a => a.select(".domain").remove())
  .call(a => a.selectAll("line").attr("stroke","#fff").attr("stroke-width",1.2))

let boxW = 0.75
boxGroups.forEach((name, i) => {
  let cx = ex(i + 1)
  ge.append("line").attr("x1",cx).attr("x2",cx).attr("y1",ey(boxHi[i])).attr("y2",ey(boxQ3[i]))
    .attr("stroke","#333").attr("stroke-width",0.9)
  ge.append("line").attr("x1",cx).attr("x2",cx).attr("y1",ey(boxQ1[i])).attr("y2",ey(boxLo[i]))
    .attr("stroke","#333").attr("stroke-width",0.9)
  ge.append("rect").attr("x",ex(i + 1 - boxW / 2)).attr("y",ey(boxQ3[i]))
    .attr("width",ex(i + 1 + boxW / 2) - ex(i + 1 - boxW / 2)).attr("height",ey(boxQ1[i]) - ey(boxQ3[i]))
    .attr("fill","#fff").attr("stroke","#333").attr("stroke-width",0.9)
  ge.append("line").attr("x1",ex(i + 1 - boxW / 2)).attr("x2",ex(i + 1 + boxW / 2))
    .attr("y1",ey(boxMed[i])).attr("y2",ey(boxMed[i])).attr("stroke","#333").attr("stroke-width",1.8)
})
ge.selectAll(".out").data(boxOut).enter().append("circle")
  .attr("cx", d => ex(d[0] + 1)).attr("cy", d => ey(d[1])).attr("r",1.6).attr("fill","#000")

let eya = ge.append("g").attr("transform","translate(432,0)")
  .call(d3.axisLeft(ey).tickValues(yTicksE).tickSize(3).tickFormat(""))
let exa = ge.append("g").attr("transform","translate(0,555)")
  .call(d3.axisBottom(ex).tickValues([1,2]).tickSize(3).tickPadding(10).tickFormat((d, i) => boxGroups[i]))
for (let a of [eya, exa]) {
  a.select(".domain").remove()
  a.selectAll("line").attr("stroke","#444").attr("stroke-width",0.8)
}
exa.selectAll("text").attr("fill","#333").style("font-size","10px")
ge.append("text").attr("transform","translate(421,442) rotate(-90)").attr("text-anchor","middle")
  .attr("fill","#222").style("font-size","10.5px").text("IFNy Score")

//panel letters
const panelLetters = [["A.",0,21],["B.",4,251],["C.",0,511],["D.",368,25],["E.",383,333],["F.",702,23]]
svg.selectAll(".letter").data(panelLetters).enter().append("text")
  .attr("x", d => d[1]).attr("y", d => d[2]).attr("fill","#111")
  .style("font-size","20px").text(d => d[0])
</script>
</body>
</html>
